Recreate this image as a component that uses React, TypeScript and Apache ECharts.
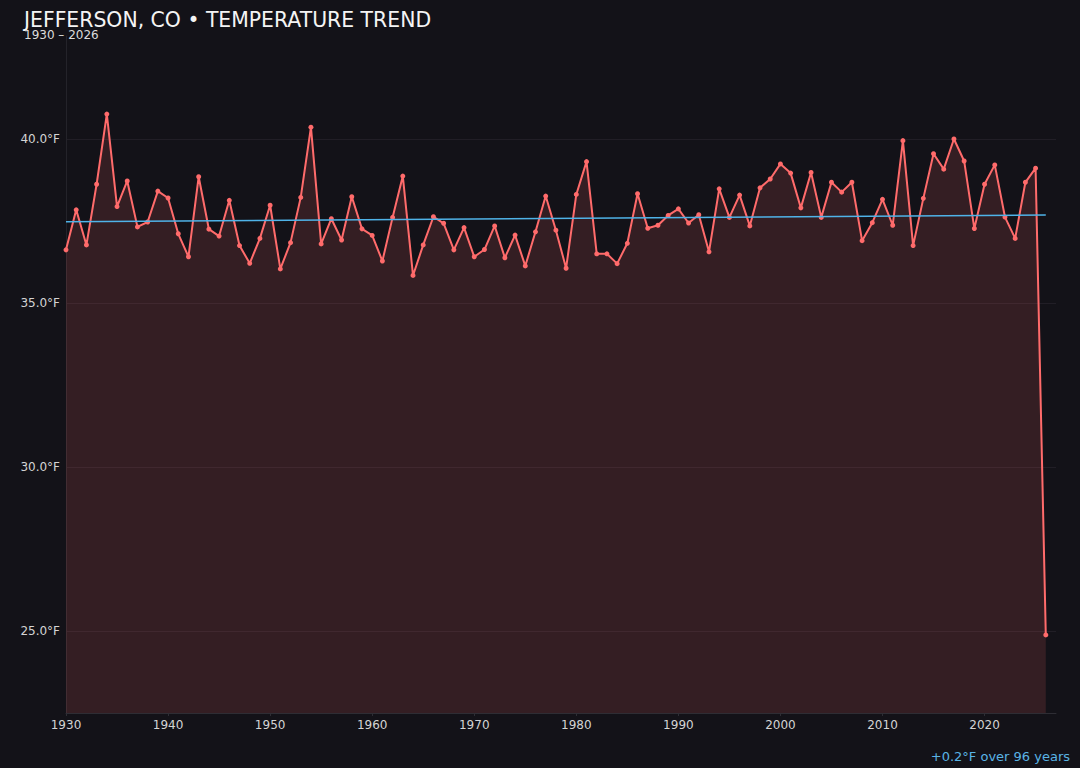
import { useEffect, useRef } from 'react';
import * as echarts from 'echarts';

const years: number[] = Array.from({ length: 97 }, (_, i) => 1930 + i);

const temps: number[] = [
  36.62, 37.84, 36.77, 38.62, 40.76, 37.94, 38.72, 37.32, 37.47, 38.41,
  38.2, 37.11, 36.41, 38.85, 37.25, 37.04, 38.13, 36.75, 36.21, 36.97,
  37.98, 36.04, 36.84, 38.22, 40.36, 36.8, 37.57, 36.92, 38.24, 37.26,
  37.06, 36.28, 37.61, 38.87, 35.84, 36.77, 37.63, 37.43, 36.62, 37.3,
  36.41, 36.63, 37.35, 36.38, 37.07, 36.13, 37.17, 38.26, 37.22, 36.06,
  38.31, 39.31, 36.5, 36.5, 36.2, 36.82, 38.33, 37.28, 37.37, 37.67,
  37.87, 37.44, 37.69, 36.56, 38.48, 37.61, 38.29, 37.35, 38.51, 38.78,
  39.24, 38.96, 37.9, 38.98, 37.61, 38.68, 38.38, 38.68, 36.9, 37.45,
  38.16, 37.37, 39.95, 36.75, 38.19, 39.55, 39.08, 40.0, 39.33, 37.27,
  38.62, 39.21, 37.62, 36.97, 38.68, 39.11, 24.88,
];

const trendYears: number[] = [1930, 2026];
const trendValues: number[] = [37.48, 37.68];

const yTicks: number[] = [25, 30, 35, 40];
const xTicks: number[] = [1930, 1940, 1950, 1960, 1970, 1980, 1990, 2000, 2010, 2020];

const FONT = "'DejaVu Sans', sans-serif";

export default function App() {
  const chartRef = useRef<HTMLDivElement>(null);

  useEffect(() => {
    document.body.style.margin = '0';
    document.body.style.background = '#131218';
    if (!chartRef.current) return;
    const chart = echarts.init(chartRef.current, null, { renderer: 'svg' });

    chart.setOption({
      animation: false,
      backgroundColor: '#131218',
      textStyle: { fontFamily: FONT },
      grid: { left: 66, right: 24, top: 36, bottom: 55, containLabel: false },
      graphic: [
        {
          type: 'text',
          left: 24,
          top: 10,
          style: {
            text: 'JEFFERSON, CO • TEMPERATURE TREND',
            fill: '#f4f4f4',
            font: `20.4px ${FONT}`,
          },
        },
        {
          type: 'text',
          left: 24,
          top: 29,
          style: { text: '1930 – 2026', fill: '#dcdcdc', font: `12px ${FONT}` },
        },
        {
          type: 'text',
          right: 10,
          bottom: 5,
          style: {
            text: '+0.2°F over 96 years',
            fill: '#5ab4e5',
            font: `13px ${FONT}`,
          },
        },
      ],
      xAxis: {
        type: 'value',
        min: 1930,
        max: 2027,
        axisLine: { show: true, lineStyle: { color: '#2e2d34' } },
        axisTick: {
          show: true,
          length: 3,
          customValues: xTicks,
          lineStyle: { color: '#2e2d34' },
        },
        axisLabel: {
          customValues: xTicks,
          color: '#d4d4d4',
          fontSize: 12,
          margin: 6,
          formatter: (v: number) => String(v),
        },
        splitLine: { show: false },
      },
      yAxis: {
        type: 'value',
        min: 22.5,
        max: 43.14,
        axisLine: { show: true, lineStyle: { color: '#24232a' } },
        axisTick: { show: false, customValues: yTicks },
        axisLabel: {
          customValues: yTicks,
          color: '#d4d4d4',
          fontSize: 12,
          margin: 6,
          formatter: (v: number) => `${v.toFixed(1)}°F`,
        },
        splitLine: { show: true, lineStyle: { color: '#211e26', width: 1 } },
      },
      series: [
        {
          type: 'line',
          data: years.map((y, i) => [y, temps[i]]),
          symbol: 'circle',
          symbolSize: 5,
          itemStyle: { color: '#ff6b6b' },
          lineStyle: { color: '#ff6b6b', width: 2 },
          areaStyle: { color: 'rgba(255,107,107,0.2)', origin: 'start' },
          z: 2,
        },
        {
          type: 'line',
          data: trendYears.map((y, i) => [y, trendValues[i]]),
          symbol: 'none',
          lineStyle: { color: '#4fb3e8', width: 1.5 },
          z: 3,
        },
      ],
    });

    return () => {
      chart.dispose();
    };
  }, []);

  return <div ref={chartRef} style={{ width: '1080px', height: '768px' }} />;
}
